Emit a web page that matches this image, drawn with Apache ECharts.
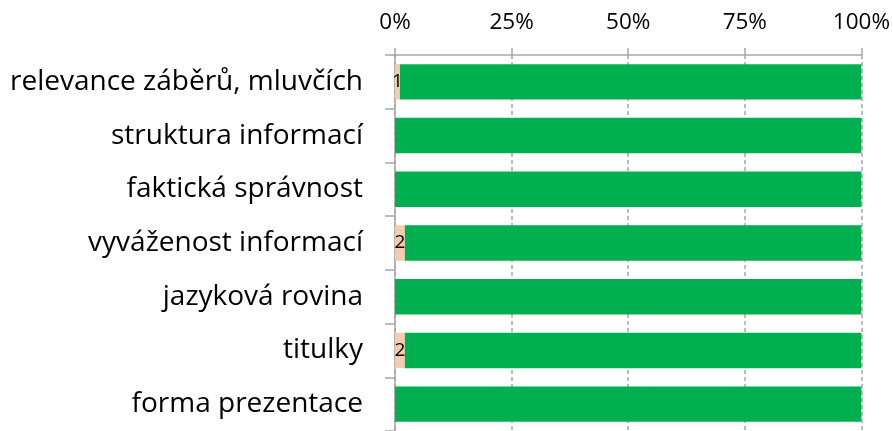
<!DOCTYPE html>
<html><head><meta charset="utf-8">
<script src="https://cdn.jsdelivr.net/npm/echarts@6/dist/echarts.min.js"></script>
<style>html,body{margin:0;padding:0;background:#fff}#c{width:893px;height:431px}</style>
</head><body><div id="c"></div>
<script>
const categories = ["relevance záběrů, mluvčích","struktura informací","faktická správnost","vyváženost informací","jazyková rovina","titulky","forma prezentace"];
const minorCounts = [1,0,0,2,0,2,0];
const mainCounts = [94,95,95,93,95,93,95];
const xTicks = [0,25,50,75,100];

const totals = minorCounts.map((v,i)=>v+mainCounts[i]);
const minorPct = minorCounts.map((v,i)=>({value: v/totals[i]*100, raw: v}));
const mainPct = mainCounts.map((v,i)=>v/totals[i]*100);
const FONT = '"Open Sans", sans-serif';

const chart = echarts.init(document.getElementById('c'), null, {renderer:'canvas'});
chart.setOption({
  animation:false,
  grid:{left:395, right:31, top:55, height:381, containLabel:false},
  xAxis:{type:'value', position:'top', min:xTicks[0], max:xTicks[xTicks.length-1], interval:25,
    axisLine:{show:true, lineStyle:{color:'#A6A6A6', width:1.5}},
    axisTick:{show:true, length:7, inside:false, lineStyle:{color:'#A6A6A6', width:1.5}},
    axisLabel:{formatter: v=>v+'%', color:'#000', fontSize:22.5, fontFamily:FONT, margin:21},
    splitLine:{show:true, lineStyle:{color:'#A6A6A6', type:[4,3], width:1.5}}},
  yAxis:{type:'category', data:categories, inverse:true,
    axisLine:{show:true, lineStyle:{color:'#A6A6A6', width:1.5}},
    axisTick:{show:true, length:10, lineStyle:{color:'#A6A6A6', width:1.5}},
    axisLabel:{color:'#000', fontSize:28, fontFamily:FONT, margin:32}},
  series:[
    {type:'bar', stack:'s', data:minorPct, barCategoryGap:'34%',
     itemStyle:{color:'#F8CBAD'},
     label:{show:true, position:'inside', color:'#000', fontSize:19, fontFamily:FONT,
       formatter: p=> p.data.raw>0 ? String(p.data.raw) : ''}},
    {type:'bar', stack:'s', data:mainPct, barCategoryGap:'34%',
     itemStyle:{color:'#00B050'}}
  ]
});
</script></body></html>
